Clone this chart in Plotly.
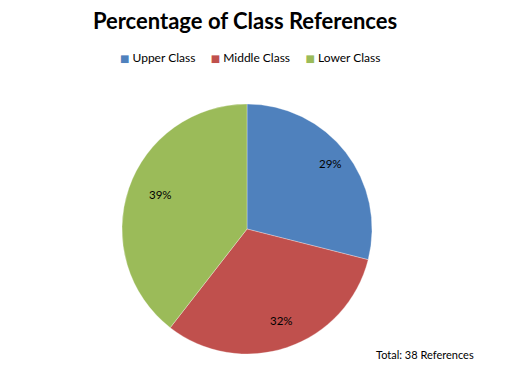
import math
import plotly.graph_objects as go

categories = ["Upper Class", "Middle Class", "Lower Class"]
references = [11, 12, 15]
colors = ["#4F81BD", "#C0504D", "#9BBB59"]
title_text = "Percentage of Class References"
note_text = "Total: 38 References"

W, H = 508, 389
cx_px, cy_px, r_px = 247, 229, 125
dom_x = [(cx_px - r_px) / W, (cx_px + r_px) / W]
dom_y = [1 - (cy_px + r_px) / H, 1 - (cy_px - r_px) / H]
FONT = "Lato, DejaVu Sans"

fig = go.Figure(go.Pie(
    labels=categories, values=references,
    marker=dict(colors=colors, line=dict(color="rgba(255,255,255,0.6)", width=0.5)),
    sort=False, direction="clockwise", rotation=0,
    textinfo="none", hoverinfo="label+percent",
    domain=dict(x=dom_x, y=dom_y), showlegend=False,
))

total = sum(references)
annotations = []
cum = 0
cxp = sum(dom_x) / 2
cyp = sum(dom_y) / 2
for v in references:
    mid = (cum + v / 2) / total * 2 * math.pi
    cum += v
    pct = round(v / total * 100)
    annotations.append(dict(
        x=cxp + 0.85 * r_px / W * math.sin(mid),
        y=cyp + 0.85 * r_px / H * math.cos(mid),
        xref="paper", yref="paper", text=f"{pct}%", showarrow=False,
        font=dict(family=FONT, size=11.5, color="#000000"),
    ))
annotations.append(dict(
    x=476 / W, y=1 - 363 / H, xref="paper", yref="paper", xanchor="right",
    text=note_text, showarrow=False,
    font=dict(family=FONT, size=11, color="#000000"),
))

# legend row built from the categories and colours
gap = "&nbsp;" * 5
legend_text = gap.join(
    f'<span style="color:{c};font-size:10px">■</span>&nbsp;{name}'
    for name, c in zip(categories, colors)
)
annotations.append(dict(
    x=250 / W, y=1 - 57 / H, xref="paper", yref="paper",
    xanchor="center", yanchor="middle", text=legend_text, showarrow=False,
    font=dict(family=FONT, size=12, color="#000000"),
))

fig.update_layout(
    width=W, height=H,
    margin=dict(l=0, r=0, t=0, b=0),
    paper_bgcolor="white", plot_bgcolor="white",
    title=dict(text=f"<b>{title_text}</b>", x=245 / W, xanchor="center",
               y=1 - 21 / H, yanchor="middle",
               font=dict(family=FONT, size=22, color="#000000")),
    showlegend=False,
    annotations=annotations,
)

fig.write_html("out.html", config={"displayModeBar": False},
               post_script="document.body.style.margin='0';")
